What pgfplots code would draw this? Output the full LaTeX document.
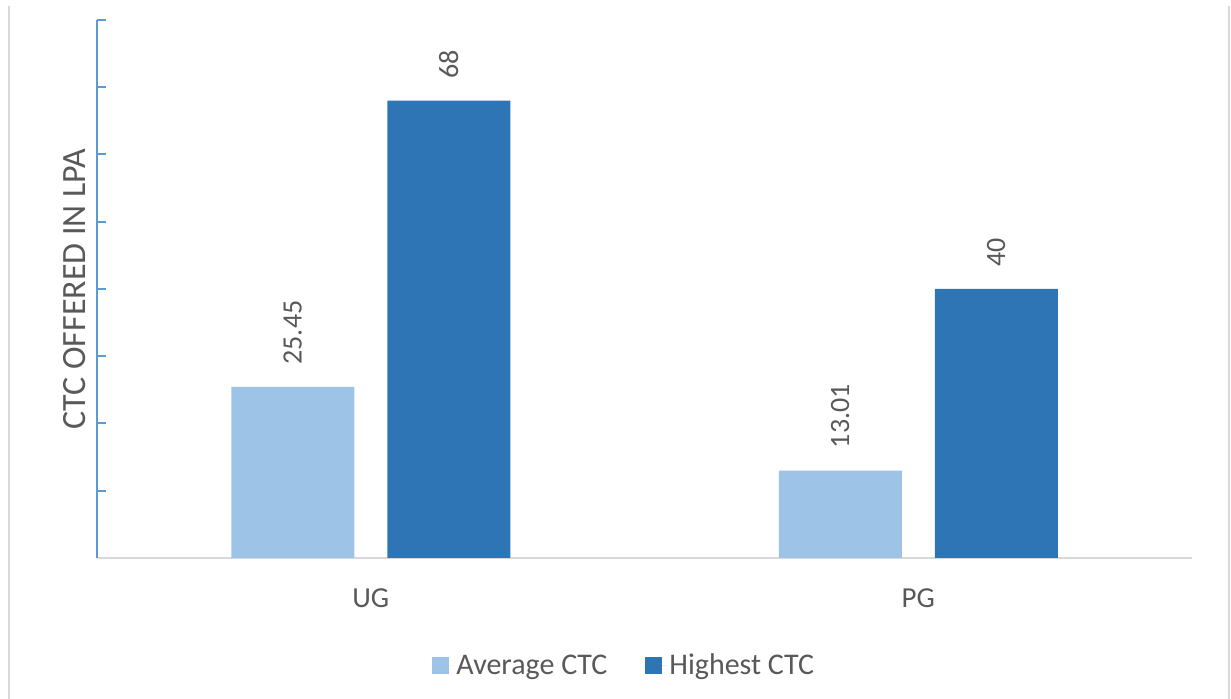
\documentclass[border=0pt]{standalone}
\usepackage{pgfplots}
\pgfplotsset{compat=1.18}
\usepackage{fontspec}
\setmainfont{Carlito}

\definecolor{avgblue}{HTML}{9DC3E6}
\definecolor{highblue}{HTML}{2E75B6}
\definecolor{axisblue}{HTML}{5B9BD5}
\definecolor{gridgray}{HTML}{D9D9D9}
\definecolor{textgray}{HTML}{595959}

\begin{document}
\begin{tikzpicture}
\useasboundingbox (-48.5pt,-70.5pt) rectangle (567pt,279pt);
% light frame lines at the left and right edges
\draw[gridgray, line width=1pt] (-44pt,-70.5pt) -- (-44pt,276pt);
\draw[gridgray, line width=1pt] (566pt,-70.5pt) -- (566pt,276pt);
\begin{axis}[
    scale only axis,
    width=547.5pt,
    height=269pt,
    ybar=16.5pt,
    bar width=61.5pt,
    xmin=-0.5, xmax=1.5,
    ymin=0, ymax=80,
    xtick={0,1},
    xticklabels={UG,PG},
    ytick={0,10,...,80},
    yticklabels={},
    axis y line*=left,
    axis x line*=bottom,
    y axis line style={axisblue, line width=1pt, -},
    x axis line style={gridgray, line width=1pt, -},
    ytick style={axisblue, line width=1pt},
    xtick style={draw=none},
    tick align=inside,
    major tick length=4.5pt,
    xticklabel style={font=\fontsize{14.5}{17}\selectfont, text=textgray, inner sep=0pt},
    xticklabel shift=15pt,
    ylabel={CTC OFFERED IN LPA},
    ylabel style={font=\fontsize{17}{20}\selectfont, text=textgray, inner sep=0pt,
        at={(axis description cs:-0.01,0.5)}, anchor=south, rotate=0},
    nodes near coords,
    nodes near coords style={font=\fontsize{14}{16}\selectfont, text=textgray,
        rotate=90, anchor=west, inner xsep=11pt, inner ysep=0pt},
    /pgf/number format/assume math mode=true,
    legend columns=-1,
    legend style={draw=none, fill=none, at={(0.482,-0.2007)}, anchor=center,
        font=\fontsize{15}{18}\selectfont, text=textgray,
        /tikz/every even column/.append style={column sep=17.5pt},
        nodes={inner sep=1.5pt}},
    legend image code/.code={\fill[#1] (0pt,-4.25pt) rectangle (8.5pt,4.25pt);
        \path (0pt,0pt) -- (10.5pt,0pt);},
]
\addplot[fill=avgblue, draw=none] coordinates {(0,25.45) (1,13.01)};
\addplot[fill=highblue, draw=none] coordinates {(0,68) (1,40)};
\legend{Average CTC, Highest CTC}
\end{axis}
\end{tikzpicture}
\end{document}
